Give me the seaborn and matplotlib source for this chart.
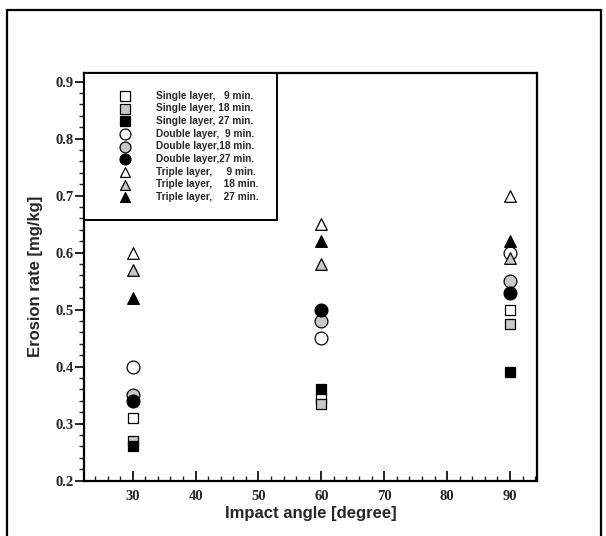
import numpy as np
import pandas as pd
import matplotlib
matplotlib.use("Agg")
import matplotlib.pyplot as plt
import seaborn as sns
from matplotlib.patches import Rectangle
from matplotlib.ticker import MultipleLocator

# ── data ─────────────────────────────────────────────
angles = [30, 60, 90]

single_9 = [0.31, 0.345, 0.50]
single_18 = [0.27, 0.335, 0.475]
single_27 = [0.26, 0.36, 0.39]
double_9 = [0.40, 0.45, 0.60]
double_18 = [0.35, 0.48, 0.55]
double_27 = [0.34, 0.50, 0.53]
triple_9 = [0.60, 0.65, 0.70]
triple_18 = [0.57, 0.58, 0.59]
triple_27 = [0.52, 0.62, 0.62]

labels = [
    "Single layer,   9 min.",
    "Single layer, 18 min.",
    "Single layer, 27 min.",
    "Double layer,  9 min.",
    "Double layer,18 min.",
    "Double layer,27 min.",
    "Triple layer,     9 min.",
    "Triple layer,    18 min.",
    "Triple layer,    27 min.",
]
series = [single_9, single_18, single_27,
          double_9, double_18, double_27,
          triple_9, triple_18, triple_27]
markers = ["s", "s", "s", "o", "o", "o", "^", "^", "^"]
fills = ["white", "#c8c8c8", "black"] * 3
sizes = [60, 60, 60, 85, 85, 85, 70, 70, 70]

df = pd.DataFrame({
    "angle": np.tile(angles, len(series)),
    "rate": np.concatenate(series),
    "group": np.repeat(labels, len(angles)),
})

sns.set_style("white")
plt.rcParams["font.family"] = ["Liberation Sans", "DejaVu Sans"]

fig = plt.figure(figsize=(6.06, 5.36), dpi=100)
ax = fig.add_axes([84 / 606, 1 - 480.7 / 536, (537 - 84) / 606, (480.7 - 72.5) / 536])

for lab, mk, fc, sz in zip(labels, markers, fills, sizes):
    sub = df[df["group"] == lab]
    sns.scatterplot(data=sub, x="angle", y="rate", marker=mk, s=sz,
                    color=fc, edgecolor="black", linewidth=0.9,
                    ax=ax, label=lab, zorder=3)

ax.set_xlim(22.25, 94.3)
ax.set_ylim(0.2, 0.916)

ax.xaxis.set_minor_locator(MultipleLocator(2))
ax.yaxis.set_minor_locator(MultipleLocator(0.02))
ax.set_xticks([30, 40, 50, 60, 70, 80, 90])
ax.set_yticks([0.2, 0.3, 0.4, 0.5, 0.6, 0.7, 0.8, 0.9])
ax.set_yticklabels(["0.2", "0.3", "0.4", "0.5", "0.6", "0.7", "0.8", "0.9"])

ax.tick_params(axis="x", which="major", direction="in", length=7, width=1.4,
               bottom=True, top=False, pad=7)
ax.tick_params(axis="x", which="minor", direction="in", length=3.6, width=1.0,
               bottom=True, top=False)
ax.tick_params(axis="y", which="major", direction="out", length=6.5, width=1.4,
               left=True, right=False, pad=1)
ax.tick_params(axis="y", which="minor", direction="out", length=3.6, width=1.0,
               left=True, right=False)
for t in ax.get_xticklabels() + ax.get_yticklabels():
    t.set_fontfamily("Liberation Serif")
    t.set_fontweight("bold")
    t.set_fontsize(10.5)

for sp in ax.spines.values():
    sp.set_linewidth(1.6)
    sp.set_color("black")

ax.set_xlabel("Impact angle [degree]", fontsize=12, fontweight="bold", labelpad=2)
ax.set_ylabel("Erosion rate [mg/kg]", fontsize=12, fontweight="bold", labelpad=9)

leg = ax.legend(loc="upper left", bbox_to_anchor=(0, 1), borderaxespad=0,
                frameon=True, fancybox=False, prop={"size": 7.3, "weight": "bold"},
                handlelength=4.5, handletextpad=0.8, borderpad=1.8,
                labelspacing=0.26, markerscale=0.85)
leg.get_frame().set_edgecolor("black")
leg.get_frame().set_linewidth(1.4)
leg.get_frame().set_facecolor("white")
leg.get_frame().set_alpha(1)

# outer frame round the figure
fig.patches.append(Rectangle((6.5 / 606, -0.02), (601 - 6.5) / 606, 1.02 - 10 / 536,
                             transform=fig.transFigure, fill=False,
                             edgecolor="black", linewidth=1.6))

fig.savefig("out.png", dpi=100, facecolor="white")
